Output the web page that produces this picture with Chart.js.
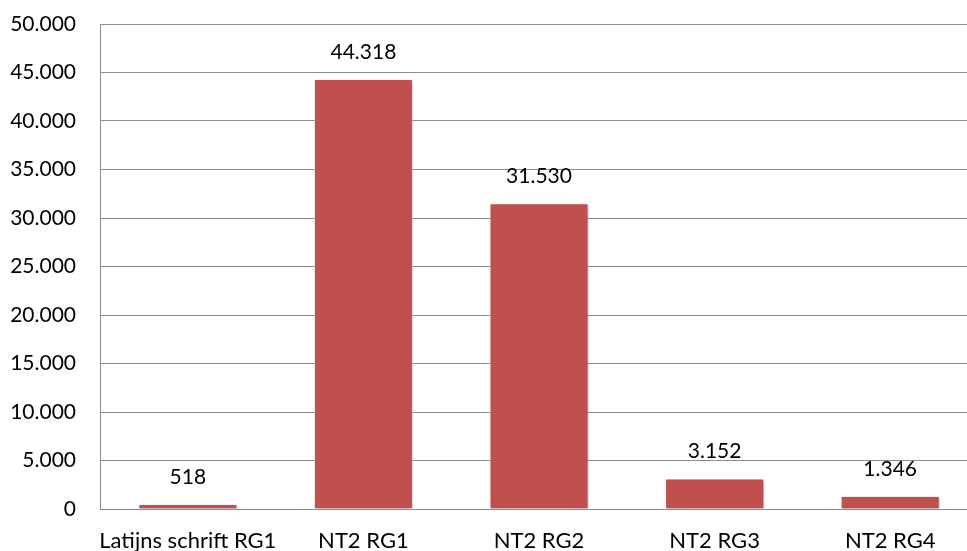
<!DOCTYPE html>
<html>
<head>
<meta charset="utf-8">
<script src="https://cdn.jsdelivr.net/npm/chart.js@4.4.1/dist/chart.umd.min.js"></script>
<style>
  html, body { margin: 0; padding: 0; background: #fff; overflow: hidden; }
  #wrap { position: relative; width: 978px; height: 551px; }
</style>
</head>
<body>
<div id="wrap"><canvas id="c"></canvas></div>
<script>
const categories = ["Latijns schrift RG1", "NT2 RG1", "NT2 RG2", "NT2 RG3", "NT2 RG4"];
const values = [518, 44318, 31530, 3152, 1346];
const yMin = 0;
const yMax = 50000;
const yStep = 5000;

function fmt(n) {
  return String(Math.round(n)).replace(/\B(?=(\d{3})+(?!\d))/g, '.');
}

const FONT = "Lato";
const FSIZE = 21;
const XSIZE = 22;
const GRID = '#8c8c8c';

const shadowPlugin = {
  id: 'barShadow',
  beforeDatasetsDraw(chart) {
    const ctx = chart.ctx;
    ctx.save();
    ctx.shadowColor = 'rgba(0,0,0,0.35)';
    ctx.shadowBlur = 3;
    ctx.shadowOffsetX = 1.5;
    ctx.shadowOffsetY = 1.5;
  },
  afterDatasetsDraw(chart) {
    chart.ctx.restore();
  }
};

const labelPlugin = {
  id: 'valueLabels',
  afterDatasetsDraw(chart) {
    const ctx = chart.ctx;
    ctx.save();
    ctx.shadowColor = 'transparent';
    ctx.font = FSIZE + 'px ' + FONT;
    ctx.fillStyle = '#000';
    ctx.textAlign = 'center';
    ctx.textBaseline = 'alphabetic';
    const meta = chart.getDatasetMeta(0);
    meta.data.forEach((bar, i) => {
      ctx.fillText(fmt(values[i]), bar.x, bar.y - 20);
    });
    ctx.restore();
  }
};

new Chart(document.getElementById('c'), {
  type: 'bar',
  data: {
    labels: categories,
    datasets: [{
      data: values,
      backgroundColor: '#C0504D',
      borderColor: 'rgba(255,255,255,0.7)',
      borderWidth: 1,
      barPercentage: 0.564,
      categoryPercentage: 1.0
    }]
  },
  options: {
    responsive: true,
    maintainAspectRatio: false,
    animation: false,
    devicePixelRatio: 1,
    layout: { padding: { top: 24, right: 0, left: 0, bottom: 0 } },
    plugins: {
      legend: { display: false },
      tooltip: { enabled: false }
    },
    scales: {
      x: {
        grid: { display: false, drawTicks: false },
        border: { display: true, color: GRID, width: 1 },
        ticks: {
          color: '#000',
          font: { family: FONT, size: XSIZE },
          padding: 19,
          maxRotation: 0,
          autoSkip: false
        },
        afterFit(scale) { scale.height = 42; scale.paddingLeft = 0; scale.paddingRight = 0; }
      },
      y: {
        min: yMin,
        max: yMax,
        grid: { color: GRID, lineWidth: 1, drawTicks: false },
        border: { display: true, color: GRID, width: 1 },
        ticks: {
          stepSize: yStep,
          color: '#000',
          font: { family: FONT, size: FSIZE },
          padding: 24,
          callback: (v) => fmt(v)
        },
        afterFit(scale) { scale.width = 100; scale.paddingTop = 0; scale.paddingBottom = 0; }
      }
    }
  },
  plugins: [shadowPlugin, labelPlugin]
});
</script>
</body>
</html>
